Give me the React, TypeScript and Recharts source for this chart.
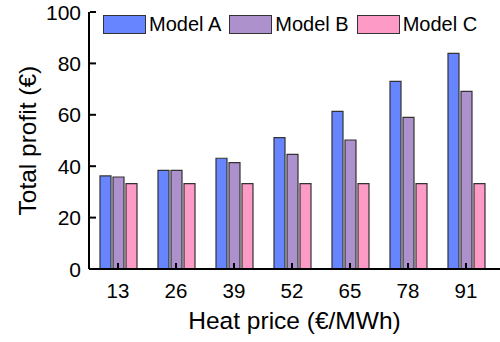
import React from 'react';
import { BarChart, Bar, XAxis, YAxis, Legend } from 'recharts';

const heatPrices = ['13', '26', '39', '52', '65', '78', '91'];
const modelA = [36.2, 38.4, 43.1, 51.1, 61.3, 73.0, 83.9];
const modelB = [35.8, 38.4, 41.4, 44.6, 50.2, 59.0, 69.1];
const modelC = [33.2, 33.2, 33.2, 33.2, 33.2, 33.2, 33.2];
const yTicks = [0, 20, 40, 60, 80, 100];

const data = heatPrices.map((p, i) => ({
  price: p,
  a: modelA[i],
  b: modelB[i],
  c: modelC[i],
}));

const series = [
  { key: 'a', name: 'Model A', color: '#6685ff' },
  { key: 'b', name: 'Model B', color: '#ad91cc' },
  { key: 'c', name: 'Model C', color: '#fd9ac6' },
];

const FONT = 'Arial, "Liberation Sans", sans-serif';

// ticks point inward, labels sit outside the axis
const YTick = (props: any) => {
  const { x, y, payload } = props;
  return (
    <g>
      <line x1={x + 1} x2={x + 7} y1={y} y2={y} stroke="#000" strokeWidth={2} />
      <text x={x - 8} y={y} dy={7.5} textAnchor="end" fontSize={21} fill="#000" fontFamily={FONT}>
        {payload.value}
      </text>
    </g>
  );
};

const XTick = (props: any) => {
  const { x, y, payload } = props;
  return (
    <g>
      <line x1={x} x2={x} y1={y - 1} y2={y - 6} stroke="#000" strokeWidth={2} />
      <text x={x} y={y + 29} textAnchor="middle" fontSize={20.5} fill="#000" fontFamily={FONT}>
        {payload.value}
      </text>
    </g>
  );
};

const LegendBoxes = () => (
  <div style={{ display: 'flex', alignItems: 'center', fontFamily: FONT, fontSize: 20 }}>
    {series.map((s) => (
      <div key={s.key} style={{ display: 'flex', alignItems: 'center', marginRight: 8 }}>
        <div
          style={{
            width: 41,
            height: 17,
            background: s.color,
            border: '1px solid #333',
            marginRight: 3,
          }}
        />
        <span style={{ color: '#000' }}>{s.name}</span>
      </div>
    ))}
  </div>
);

export default function App() {
  return (
    <div style={{ position: 'absolute', left: 0, top: 0, width: 500, height: 342, background: '#fff' }}>
      <BarChart
        width={500}
        height={342}
        data={data}
        margin={{ top: 12, right: 0, bottom: 0, left: 0 }}
        barSize={11}
        barGap={2}
      >
        <XAxis
          dataKey="price"
          height={73}
          padding={{ left: 0, right: 5 }}
          axisLine={{ stroke: '#000', strokeWidth: 2 }}
          tickLine={false}
          tickSize={0}
          tickMargin={0}
          tick={<XTick />}
          interval={0}
          label={{
            value: 'Heat price (€/MWh)',
            position: 'insideBottom',
            offset: 13,
            fontSize: 24.5,
            fill: '#000',
            fontFamily: FONT,
          }}
        />
        <YAxis
          width={89}
          domain={[0, 100]}
          ticks={yTicks}
          interval={0}
          axisLine={{ stroke: '#000', strokeWidth: 2 }}
          tickLine={false}
          tickSize={0}
          tickMargin={0}
          tick={<YTick />}
          label={{
            value: 'Total profit (€)',
            angle: -90,
            position: 'insideLeft',
            offset: 27,
            dy: 75,
            fontSize: 24.5,
            fill: '#000',
            fontFamily: FONT,
          }}
        />
        <Legend
          verticalAlign="middle"
          align="center"
          content={<LegendBoxes />}
          wrapperStyle={{ position: 'absolute', top: 13, left: 103, width: 400 }}
        />
        {series.map((s) => (
          <Bar
            key={s.key}
            dataKey={s.key}
            name={s.name}
            fill={s.color}
            stroke="#333"
            strokeWidth={1.2}
            isAnimationActive={false}
          />
        ))}
      </BarChart>
    </div>
  );
}
